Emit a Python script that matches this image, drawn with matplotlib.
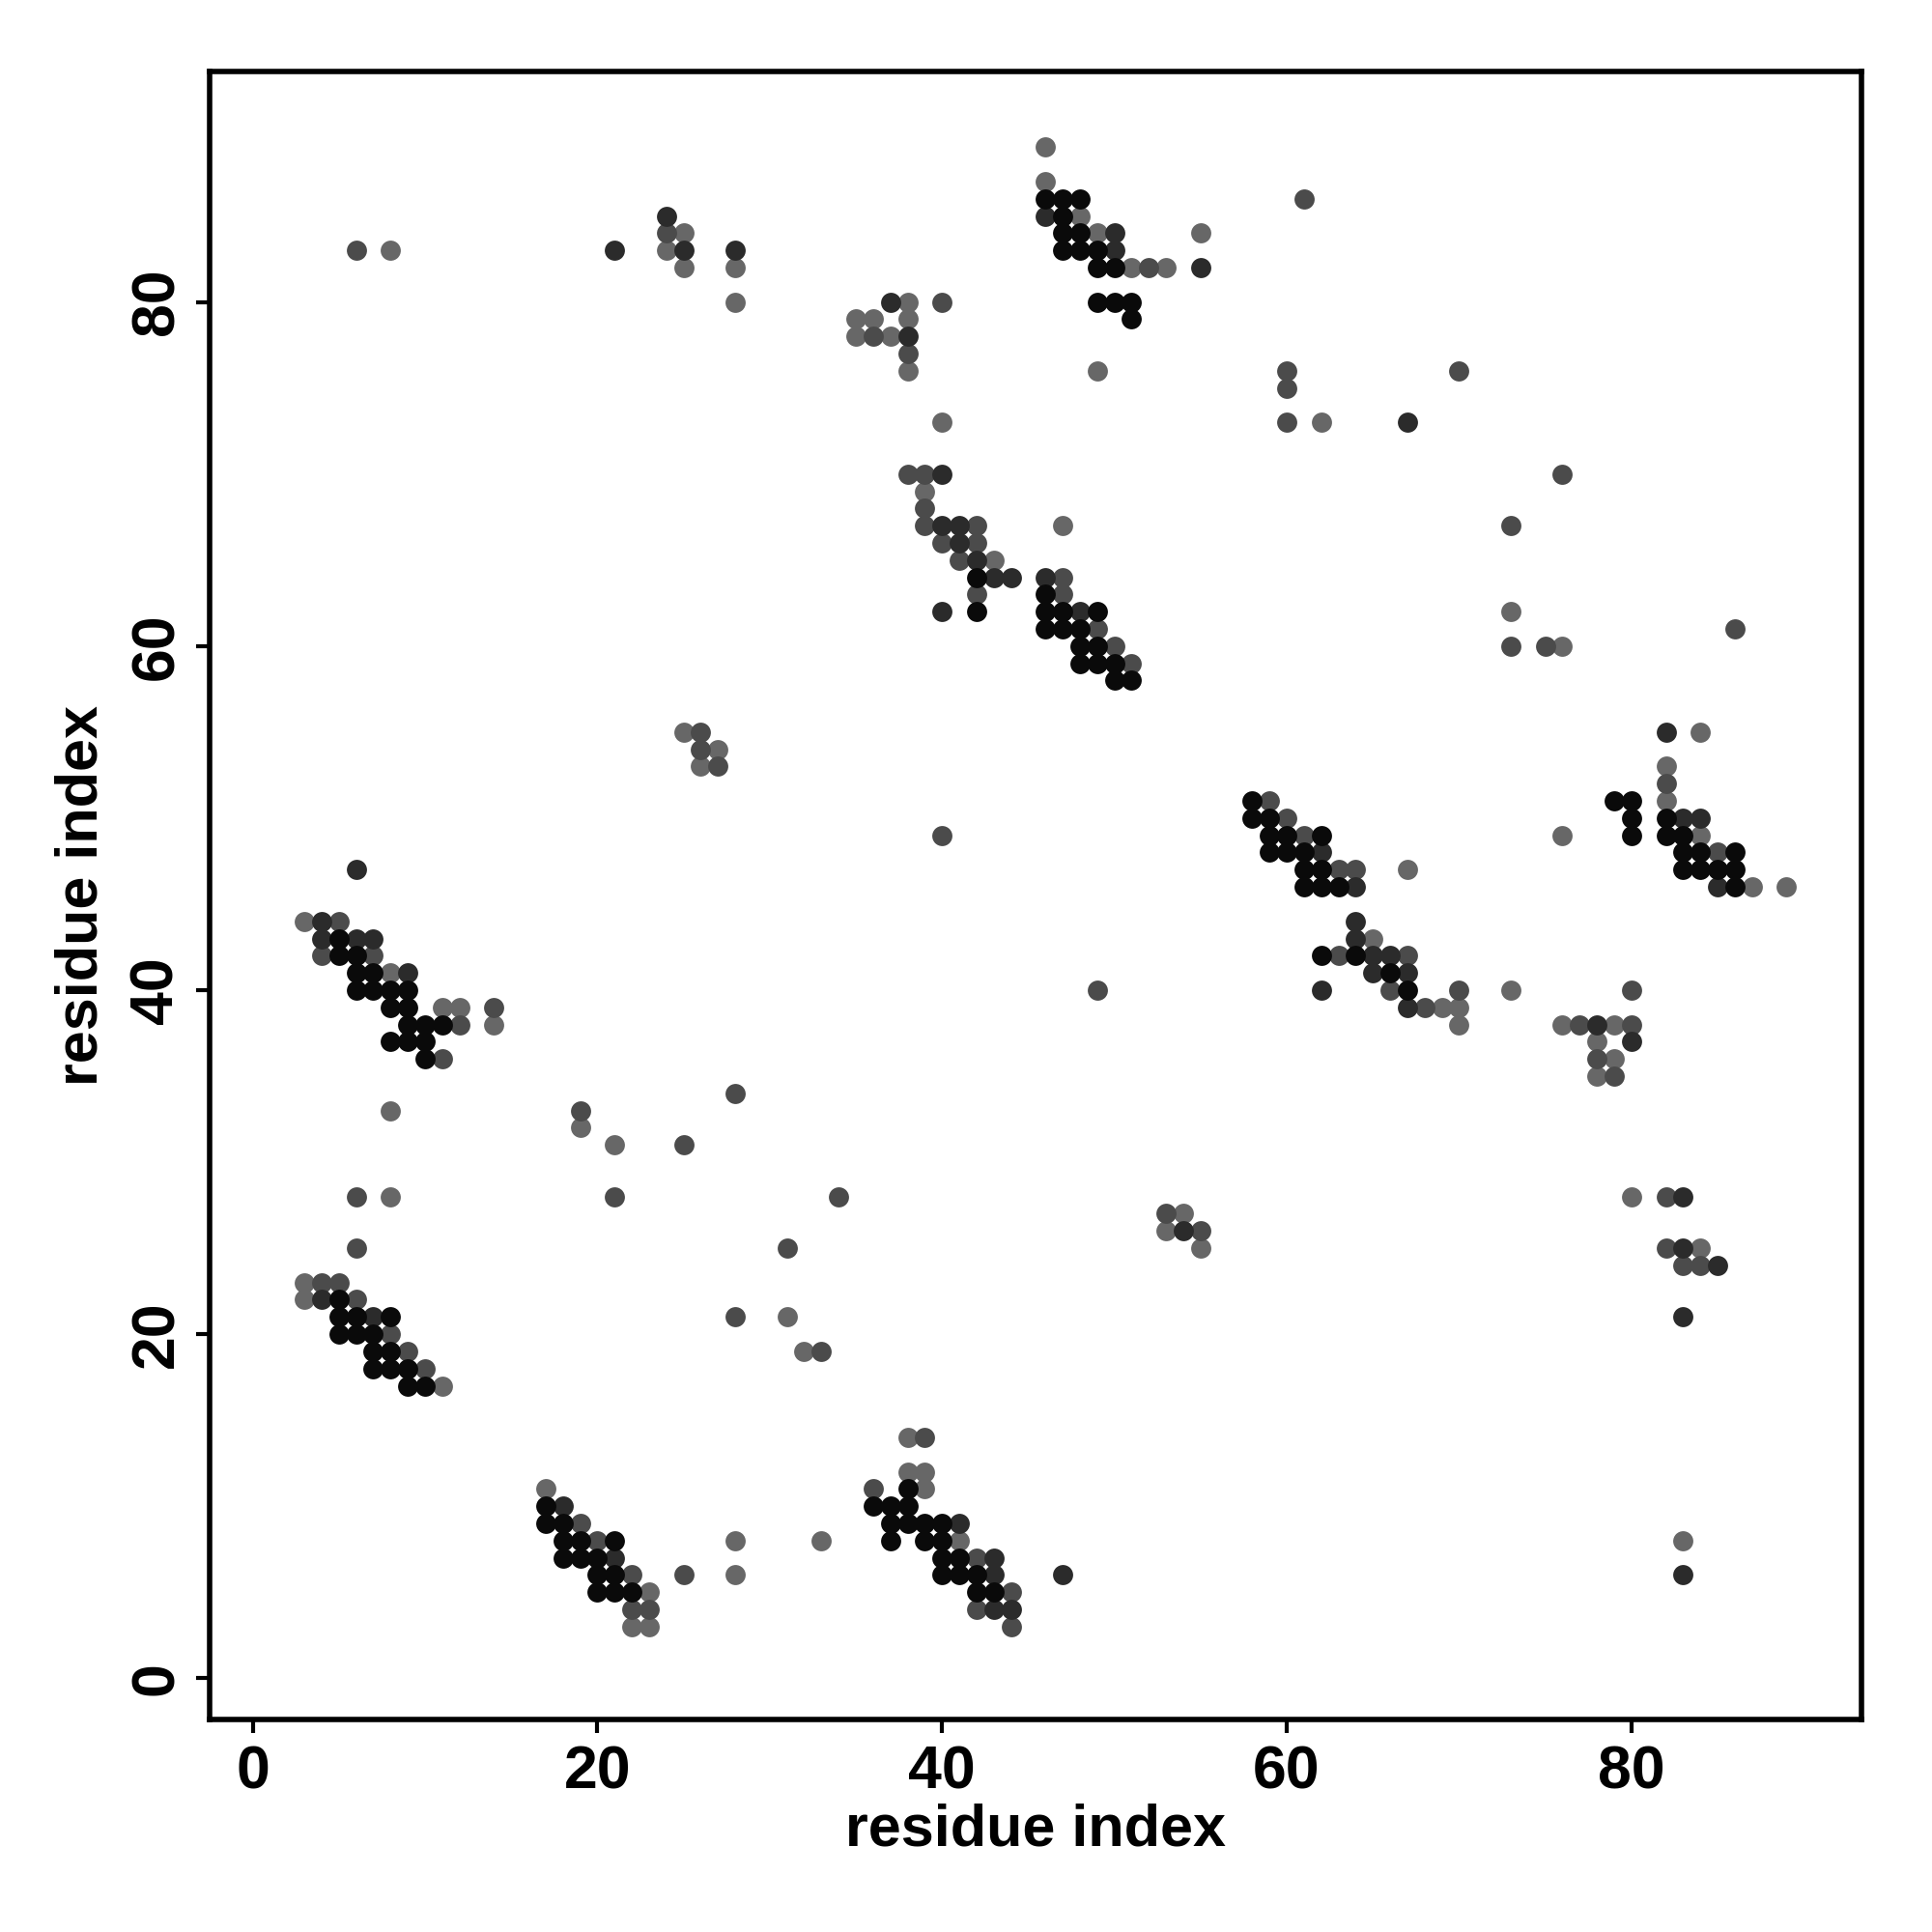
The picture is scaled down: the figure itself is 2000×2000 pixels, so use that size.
import matplotlib
matplotlib.use("Agg")
import matplotlib.pyplot as plt

# contact pairs (residue i, residue j), grouped by shade of the dot
black_pts = [(46,86),(47,86),(48,86),(47,85),(47,84),(48,84),(47,83),(48,83),(49,83),(49,82),(50,82),
             (49,80),(50,80),(51,80),(51,79),
             (42,64),(46,63),(42,62),(46,62),(47,62),(49,62),(46,61),(47,61),(48,61),(48,60),(49,60),
             (48,59),(49,59),(50,59),(50,58),(51,58),
             (58,51),(58,50),(59,50),(59,49),(60,49),(62,49),(59,48),(60,48),(61,48),(61,47),(62,47),
             (61,46),(62,46),(63,46),
             (79,51),(80,51),(80,50),(80,49),(82,50),(82,49),(83,49),(83,48),(84,48),(86,48),(83,47),
             (84,47),(85,47),(86,47),(86,46),
             (5,43),(5,42),(6,42),(6,41),(7,41),(6,40),(7,40),(8,40),(9,40),(8,39),(9,39),(9,38),(10,38),
             (11,38),(8,37),(9,37),(10,37),(10,36),
             (62,42),(64,42),(66,41),(67,40),
             (5,22),(5,21),(6,21),(8,21),(5,20),(6,20),(7,20),(7,19),(8,19),(7,18),(8,18),(9,18),(9,17),(10,17),
             (17,10),(17,9),(18,9),(18,8),(19,8),(21,8),(18,7),(19,7),(20,7),(20,6),(21,6),(20,5),(21,5),(22,5),
             (38,11),(36,10),(37,10),(38,10),(37,9),(38,9),(39,9),(40,9),(37,8),(39,8),(40,8),(40,7),(41,7),
             (40,6),(41,6),(42,6),(42,5),(43,5)]

dark_pts = [(21,83),(24,85),(25,83),(28,83),(46,85),(50,84),(50,83),(55,82),(37,80),(38,78),(40,70),
            (40,67),(41,67),(41,66),(42,65),(43,64),(44,64),(46,64),(40,62),(48,62),
            (62,48),(64,46),(83,50),(84,50),(85,46),(82,55),
            (4,44),(4,43),(6,43),(7,43),(9,41),
            (64,44),(64,43),(65,42),(66,42),(65,41),(67,41),(62,40),(67,39),(78,38),(80,37),(83,28),
            (83,25),(85,24),(83,21),
            (4,22),(7,21),(18,10),(21,7),
            (41,9),(43,7),(43,6),(47,6),(43,4),(44,4),(83,6),(6,47),(67,73),(54,26)]

mid_pts = [(6,83),(24,84),(52,82),(61,86),(40,80),(36,78),(38,77),(60,76),(60,75),(60,73),(38,70),(39,70),
           (70,76),(76,70),
           (26,55),(26,54),(27,53),
           (39,68),(39,67),(42,67),(40,66),(42,66),(41,65),(47,64),(42,63),(47,63),(49,61),(50,60),(51,59),
           (40,49),(59,51),(60,50),(61,49),(63,47),(64,47),
           (73,67),(73,60),(75,60),(86,61),(82,52),(85,48),
           (5,44),(4,42),(7,42),(14,39),(12,38),(11,36),
           (28,34),(19,33),(25,31),(6,28),(21,28),(6,25),(4,23),(5,23),(6,22),
           (63,42),(67,42),(66,40),(70,40),(80,40),(68,39),(77,38),(80,38),(78,36),(79,35),(82,28),
           (82,25),(83,24),(84,24),
           (49,40),(34,28),(31,25),(53,27),(55,26),(33,19),(39,14),(36,11),(42,7),(44,5),(42,4),(44,3),
           (8,20),(9,19),(10,18),(28,21),(20,8),(22,6),(25,6),(22,4),(23,4),(19,9)]

light_pts = [(8,83),(24,83),(25,84),(25,82),(28,82),(28,80),(46,89),(46,87),(48,85),(49,84),(55,84),
             (51,82),(53,82),(38,80),(35,79),(36,79),(38,79),(35,78),(37,78),(38,76),(49,76),(40,73),(62,73),
             (25,55),(27,54),(26,53),(39,69),(47,67),(43,65),
             (73,62),(76,60),(84,55),(82,53),(82,51),(76,49),(84,49),(87,46),(89,46),(67,47),
             (3,44),(8,41),(11,39),(12,39),(14,38),
             (8,33),(19,32),(21,31),(8,28),(3,23),(3,22),
             (65,43),(69,39),(70,39),(73,40),(70,38),(76,38),(79,38),(78,37),(79,36),(78,35),(80,28),(84,25),
             (11,17),(17,11),(28,8),(28,6),(23,5),(22,3),(23,3),
             (54,27),(53,26),(55,25),(31,21),(32,19),(38,14),(38,12),(39,12),(39,11),(33,8),(41,8),(83,8)]

groups = [(light_pts, "#676767"), (mid_pts, "#4b4b4b"), (dark_pts, "#2b2b2b"), (black_pts, "#0a0a0a")]

plt.rcParams["font.family"] = "Liberation Sans"
plt.rcParams["font.weight"] = "bold"

fig = plt.figure(figsize=(20, 20), dpi=100)
ax = fig.add_axes([0.1085, 0.110, 0.855, 0.853])

for pts, col in groups:
    xs = [p[0] for p in pts]
    ys = [p[1] for p in pts]
    ax.scatter(xs, ys, s=225, c=col, linewidths=0, zorder=3)

ax.set_xlim(-2.5, 93.35)
ax.set_ylim(-2.4, 93.4)
ax.set_xticks([0, 20, 40, 60, 80])
ax.set_yticks([0, 20, 40, 60, 80])
for sp in ax.spines.values():
    sp.set_linewidth(4)
ax.tick_params(axis="both", direction="out", length=10, width=3, labelsize=45, pad=8)
for lab in ax.get_yticklabels():
    lab.set_rotation(90)
    lab.set_va("center")
ax.set_xlabel("residue index", fontsize=44, fontweight="bold", labelpad=2)
ax.set_ylabel("residue index", fontsize=44, fontweight="bold", labelpad=14)

fig.savefig("out.png", dpi=100, facecolor="white")
